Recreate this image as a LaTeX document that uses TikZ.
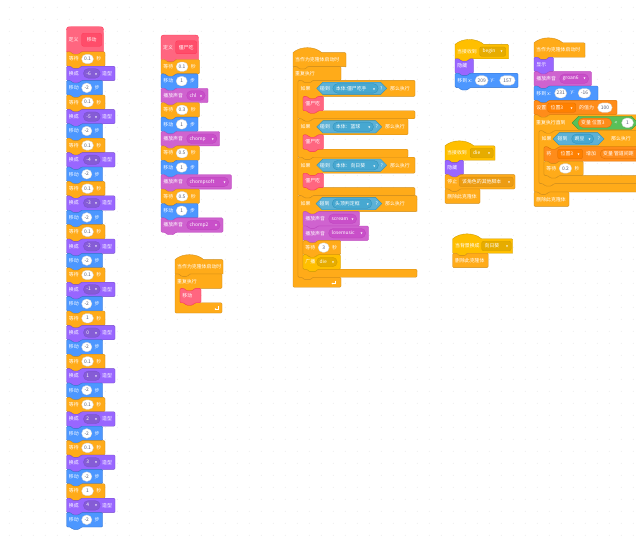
\documentclass[tikz,border=0pt]{standalone}
\usepackage{fontspec}
\newfontfamily\cjk{Noto Sans CJK SC}
\newfontfamily\dv{DejaVu Sans}
\usetikzlibrary{arrows.meta}
\definecolor{mo}{HTML}{4C97FF}\definecolor{moD}{HTML}{3373CC}
\definecolor{lk}{HTML}{9966FF}\definecolor{lkD}{HTML}{774DCB}\definecolor{lkS}{HTML}{855CD6}
\definecolor{so}{HTML}{CF63CF}\definecolor{soD}{HTML}{BD42BD}\definecolor{soS}{HTML}{C94FC9}
\definecolor{ev}{HTML}{FFBF00}\definecolor{evD}{HTML}{CC9900}\definecolor{evS}{HTML}{E6AC00}
\definecolor{ct}{HTML}{FFAB19}\definecolor{ctD}{HTML}{CF8B17}\definecolor{ctS}{HTML}{EC9C13}
\definecolor{se}{HTML}{5CB1D6}\definecolor{seD}{HTML}{2E8EB8}\definecolor{seS}{HTML}{47A8D1}
\definecolor{op}{HTML}{59C059}\definecolor{opD}{HTML}{389438}
\definecolor{da}{HTML}{FF8C1A}\definecolor{daD}{HTML}{DB6E00}\definecolor{daS}{HTML}{FF8000}
\definecolor{my}{HTML}{FF6680}\definecolor{myD}{HTML}{FF3355}\definecolor{myS}{HTML}{FF4D6A}
\definecolor{inp}{HTML}{575E75}
\tikzset{
 sMo/.style={fill=mo,draw=moD,line width=0.35pt},
 sLk/.style={fill=lk,draw=lkD,line width=0.35pt},
 sSo/.style={fill=so,draw=soD,line width=0.35pt},
 sEv/.style={fill=ev,draw=evD,line width=0.35pt},
 sCt/.style={fill=ct,draw=ctD,line width=0.35pt},
 sSe/.style={fill=se,draw=seD,line width=0.35pt},
 sOp/.style={fill=op,draw=opD,line width=0.35pt},
 sDa/.style={fill=da,draw=daD,line width=0.35pt},
 sMy/.style={fill=my,draw=myD,line width=0.35pt},
 lab/.style={text=white,font=\cjk\fontsize{4.9}{5}\selectfont,inner sep=0pt,anchor=west},
 ov/.style={shape=rectangle,rounded corners=4.6pt,fill=white,draw=black!18,line width=0.3pt,text=inp,font=\cjk\fontsize{4.9}{5}\selectfont,inner xsep=0pt,inner ysep=0pt,minimum height=9.4pt,anchor=west},
 pill/.style={shape=rectangle,rounded corners=4.6pt,line width=0.3pt,text=white,font=\cjk\fontsize{4.9}{5}\selectfont,inner xsep=3pt,inner ysep=0pt,minimum height=9.4pt,anchor=west},
 fld/.style={shape=rectangle,rounded corners=2pt,line width=0.3pt,text=white,font=\cjk\fontsize{4.9}{5}\selectfont,inner xsep=3pt,inner ysep=0pt,minimum height=9.4pt,anchor=west},
}
\newcommand\dn{{\dv\fontsize{2.6}{3}\selectfont ▼}}
% stack block: x y w h style
\newcommand\SBstack[5]{\draw[#5,rounded corners=1.1pt] (#1,#2) -- ++(4,0) -- ++(2.4,2.4) -- ++(6,0) -- ++(2.4,-2.4) -- ({#1+#3},#2) -- ({#1+#3},{#2+#4}) -- ({#1+14.8},{#2+#4}) -- ++(-2.4,2.4) -- ++(-6,0) -- ++(-2.4,-2.4) -- (#1,{#2+#4}) -- cycle;}
\newcommand\SBcap[5]{\draw[#5,rounded corners=1.1pt] (#1,#2) -- ++(4,0) -- ++(2.4,2.4) -- ++(6,0) -- ++(2.4,-2.4) -- ({#1+#3},#2) -- ({#1+#3},{#2+#4}) -- (#1,{#2+#4}) -- cycle;}
\newcommand\SBhat[5]{\draw[#5] (#1,{#2+#4}) -- (#1,#2) .. controls ({#1+7.5},{#2-6.6}) and ({#1+21.3},{#2-6.6}) .. ({#1+28.8},#2) -- ({#1+#3-1},#2) .. controls ({#1+#3},#2) .. ({#1+#3},{#2+1}) -- ({#1+#3},{#2+#4}) -- ({#1+14.8},{#2+#4}) -- ++(-2.4,2.4) -- ++(-6,0) -- ++(-2.4,-2.4) -- cycle;}
\newcommand\SBdef[5]{\draw[#5] (#1,{#2+#4}) -- (#1,{#2+6}) .. controls (#1,#2) .. ({#1+6},#2) -- ({#1+#3-6},#2) .. controls ({#1+#3},#2) .. ({#1+#3},{#2+6}) -- ({#1+#3},{#2+#4}) -- ({#1+14.8},{#2+#4}) -- ++(-2.4,2.4) -- ++(-6,0) -- ++(-2.4,-2.4) -- cycle;}
% C block: x y w ht hi hb style
\newcommand\SBc[7]{\pgfmathsetmacro\SBya{#2+#4}\pgfmathsetmacro\SByb{#2+#4+#5}\pgfmathsetmacro\SByc{#2+#4+#5+#6}\pgfmathsetmacro\SBxa{#1+5}%
 \draw[#7,rounded corners=1.1pt] (#1,#2) -- ++(4,0) -- ++(2.4,2.4) -- ++(6,0) -- ++(2.4,-2.4) -- ({#1+#3},#2) -- ({#1+#3},\SBya) -- ({\SBxa+14.8},\SBya) -- ++(-2.4,2.4) -- ++(-6,0) -- ++(-2.4,-2.4) -- (\SBxa,\SBya) -- (\SBxa,\SByb) -- ++(4,0) -- ++(2.4,2.4) -- ++(6,0) -- ++(2.4,-2.4) -- ({#1+#3},\SByb) -- ({#1+#3},\SByc) -- ({#1+14.8},\SByc) -- ++(-2.4,2.4) -- ++(-6,0) -- ++(-2.4,-2.4) -- (#1,\SByc) -- cycle;}
\newcommand\SBfor[7]{\pgfmathsetmacro\SBya{#2+#4}\pgfmathsetmacro\SByb{#2+#4+#5}\pgfmathsetmacro\SByc{#2+#4+#5+#6}\pgfmathsetmacro\SBxa{#1+5}%
 \draw[#7,rounded corners=1.1pt] (#1,#2) -- ++(4,0) -- ++(2.4,2.4) -- ++(6,0) -- ++(2.4,-2.4) -- ({#1+#3},#2) -- ({#1+#3},\SBya) -- ({\SBxa+14.8},\SBya) -- ++(-2.4,2.4) -- ++(-6,0) -- ++(-2.4,-2.4) -- (\SBxa,\SBya) -- (\SBxa,\SByb) -- ++(4,0) -- ++(2.4,2.4) -- ++(6,0) -- ++(2.4,-2.4) -- ({#1+#3},\SByb) -- ({#1+#3},\SByc) -- (#1,\SByc) -- cycle;}
\newcommand\SBhex[5]{\draw[#5] (#1,#3) -- ({#1+#4/2},{#3-#4/2}) -- ({(#2)-#4/2},{#3-#4/2}) -- (#2,#3) -- ({(#2)-#4/2},{#3+#4/2}) -- ({#1+#4/2},{#3+#4/2}) -- cycle;}
\newcommand\SBt[3]{\node[lab] at (#1,#2) {#3};}
\newcommand\SBo[4]{\pgfmathsetmacro\SBww{(#2)-(#1)}\node[ov,minimum width=\SBww pt] at (#1,#3) {#4};}
\newcommand\SBd[5]{\pgfmathsetmacro\SBww{(#2)-(#1)-6}\node[pill,#4] at (#1,#3) {\makebox[\SBww pt]{#5\hfill\dn}};}
\newcommand\SBf[5]{\pgfmathsetmacro\SBww{(#2)-(#1)-6}\node[fld,#4] at (#1,#3) {\makebox[\SBww pt]{#5\hfill\dn}};}
\newcommand\SBp[5]{\pgfmathsetmacro\SBww{(#2)-(#1)-6}\node[pill,#4] at (#1,#3) {\makebox[\SBww pt][l]{#5}};}
\newcommand\LoopArrow[2]{\draw[white,line width=0.55pt,-{Stealth[length=1.5pt,width=1.8pt]}] (#1,{#2-3}) -- (#1,#2) -- ({#1-3.5},#2);}
% block kinds
\newcommand\Wait[4]{\SBstack{#1}{#2}{(15+#4+11.7)}{14.4}{sCt}\pgfmathsetmacro\SBmy{#2+7.2}%
 \SBt{#1+2.2}{\SBmy}{等待}\SBo{#1+15}{#1+15+#4}{\SBmy}{#3}\SBt{#1+15+#4+2.8}{\SBmy}{秒}}
\newcommand\Move[4]{\SBstack{#1}{#2}{(15+#4+11)}{14.4}{sMo}\pgfmathsetmacro\SBmy{#2+7.2}%
 \SBt{#1+2.2}{\SBmy}{移动}\SBo{#1+15}{#1+15+#4}{\SBmy}{#3}\SBt{#1+15+#4+2.8}{\SBmy}{步}}
\newcommand\Costume[3]{\SBstack{#1}{#2}{48.5}{14.4}{sLk}\pgfmathsetmacro\SBmy{#2+7.2}%
 \SBt{#1+2.2}{\SBmy}{换成}\SBd{#1+16.8}{#1+33.5}{\SBmy}{fill=lkS,draw=lkD}{#3}\SBt{#1+35.5}{\SBmy}{造型}}
\newcommand\Sound[4]{\SBstack{#1}{#2}{(25.5+#4+3)}{14.4}{sSo}\pgfmathsetmacro\SBmy{#2+7.2}%
 \SBt{#1+2.2}{\SBmy}{播放声音}\SBd{#1+25.5}{#1+25.5+#4}{\SBmy}{fill=soS,draw=soD}{#3}}
\newcommand\Proc[4]{\SBstack{#1}{#2}{#3}{14.4}{sMy}\pgfmathsetmacro\SBmy{#2+7.2}\SBt{#1+2.2}{\SBmy}{#4}}
\newcommand\Simple[5]{\SBstack{#1}{#2}{#3}{14.4}{#4}\pgfmathsetmacro\SBmy{#2+7.2}\SBt{#1+2.2}{\SBmy}{#5}}
\newcommand\Delclone[3]{\SBcap{#1}{#2}{#3}{14.4}{sCt}\pgfmathsetmacro\SBmy{#2+7.2}\SBt{#1+2.2}{\SBmy}{删除此克隆体}}
\begin{document}
\begin{tikzpicture}[x=1pt,y=-1pt]
\useasboundingbox (0,0) rectangle (636,536);
\fill[white] (0,0) rectangle (636,536);
\foreach \i in {0,...,52}{\foreach \j in {0,...,44}{\fill[black!12] ({9.3+\i*12},{7.3+\j*12}) circle (0.4);}}

% ---------- column 1 : 定义 移动 ----------
\SBdef{66.5}{26.7}{37}{25.1}{sMy}
\SBt{68.5}{39.8}{定义}
\node[fld,fill=myS,draw=myD,minimum width=20pt,minimum height=13pt,inner xsep=0pt] (slotA) at (81.5,39.8) {移动};
\foreach \kk/\wv/\cv in {0/0.1/-6,1/0.1/-5,2/0.1/-4,3/0.1/-3,4/0.1/-2,5/0.1/-1,6/1/0,7/0.1/1,8/0.1/2,9/0.1/3,10/1/4}{
 \pgfmathsetmacro\yA{51.8+\kk*43.2}
 \pgfmathsetmacro\yB{\yA+14.4}
 \pgfmathsetmacro\yC{\yA+28.8}
 \Wait{66.5}{\yA}{\wv}{11.8}
 \Costume{66.5}{\yB}{\cv}
 \Move{66.5}{\yC}{-2}{10.2}
}

% ---------- column 2 : 定义 僵尸吃 ----------
\SBdef{161}{35}{37.5}{24.5}{sMy}
\SBt{163}{47.3}{定义}
\node[fld,fill=myS,draw=myD,minimum width=21pt,minimum height=13pt,inner xsep=0pt] (slotB) at (175.5,47.3) {僵尸吃};
\Wait{161}{59.5}{0.1}{11.8}
\Move{161}{73.9}{1}{11}
\Sound{161}{88.3}{chl}{18.5}
\Wait{161}{102.7}{0.3}{11.8}
\Move{161}{117.1}{1}{11}
\Sound{161}{131.5}{chomp}{30.2}
\Wait{161}{145.9}{0.5}{11.8}
\Move{161}{160.3}{1}{11}
\Sound{161}{174.7}{chompsoft}{42}
\Wait{161}{189.1}{0.5}{11.8}
\Move{161}{203.5}{1}{11}
\Sound{161}{217.9}{chomp2}{33.5}

% clone script under column 2
\SBhat{175}{259.6}{48}{14.4}{sCt}
\SBt{177}{266.8}{当作为克隆体启动时}
\SBfor{175}{274}{47}{14.4}{14.4}{10.2}{sCt}
\SBt{177}{281.2}{重复执行}
\Proc{180}{288.4}{21}{移动}
\LoopArrow{218}{309}

% ---------- column 3 ----------
\SBhat{293}{52.6}{53}{14}{sCt}
\SBt{295}{59.6}{当作为克隆体启动时}
\SBfor{293}{66.6}{48}{13.8}{196.8}{10}{sCt}
\SBt{295}{73.5}{重复执行}
% if 1
\SBc{298}{80.4}{117}{16}{14.4}{8}{sCt}
\SBt{300.5}{88.4}{如果}
\SBhex{316.7}{386.7}{88.4}{12.4}{sSe}
\SBt{320}{88.4}{碰到}
\SBd{332.7}{378}{88.4}{fill=seS,draw=seD}{本体:僵尸吃手}
\SBt{380}{88.4}{?}
\SBt{390}{88.4}{那么执行}
\Proc{303}{96.4}{20.5}{僵尸吃}
% if 2
\SBc{298}{118.8}{110}{16}{14.4}{8}{sCt}
\SBt{300.5}{126.8}{如果}
\SBhex{316.7}{381.7}{126.8}{12.4}{sSe}
\SBt{320}{126.8}{碰到}
\SBd{332.7}{373.3}{126.8}{fill=seS,draw=seD}{本体：篮球}
\SBt{375.3}{126.8}{?}
\SBt{385}{126.8}{那么执行}
\Proc{303}{134.8}{20.5}{僵尸吃}
% if 3
\SBc{298}{157.2}{117}{16}{14.4}{8}{sCt}
\SBt{300.5}{165.2}{如果}
\SBhex{316.7}{386.7}{165.2}{12.4}{sSe}
\SBt{320}{165.2}{碰到}
\SBd{332.7}{378.3}{165.2}{fill=seS,draw=seD}{本体：向日葵}
\SBt{380.3}{165.2}{?}
\SBt{390}{165.2}{那么执行}
\Proc{303}{173.2}{20.5}{僵尸吃}
% if 4
\SBc{298}{195.6}{119}{16}{57.6}{8}{sCt}
\SBt{300.5}{203.6}{如果}
\SBhex{316}{381.7}{203.6}{12.4}{sSe}
\SBt{319.5}{203.6}{碰到}
\SBd{332}{371.7}{203.6}{fill=seS,draw=seD}{头顶判定框}
\SBt{375.3}{203.6}{?}
\SBt{385}{203.6}{那么执行}
\Sound{303}{211.6}{scream}{28}
\Sound{303}{226}{losemusic}{37}
\Wait{303}{240.4}{3}{11}
\Simple{303}{254.8}{37.5}{sEv}{广播}
\SBd{316.5}{337}{262}{fill=evS,draw=evD}{die}
\LoopArrow{335}{283.5}

% ---------- column 4 ----------
\SBhat{455}{44.4}{53.5}{14.4}{sEv}
\SBt{457}{51.6}{当接收到}
\SBf{479.5}{505.5}{51.6}{fill=evS,draw=evD}{begin}
\Simple{455}{58.8}{18.5}{sLk}{隐藏}
\Simple{455}{73.2}{63}{sMo}{移到 x:}
\SBo{475}{488}{80.4}{209}
\SBt{490.5}{80.4}{y:}
\SBo{499.5}{515}{80.4}{157}

\SBhat{445}{145.8}{50}{14.4}{sEv}
\SBt{447}{153}{当接收到}
\SBf{470}{493}{153}{fill=evS,draw=evD}{die}
\Simple{445}{160.2}{18.5}{sLk}{隐藏}
\Simple{445}{174.6}{70}{sCt}{停止}
\SBf{459}{513}{181.8}{fill=ctS,draw=ctD}{该角色的其他脚本}
\Delclone{445}{189}{35}

\SBhat{452.7}{238.8}{60}{14.4}{sEv}
\SBt{454.9}{246}{当背景换成}
\SBf{481.5}{511}{246}{fill=evS,draw=evD}{向日葵}
\Delclone{452.7}{253.2}{35.5}

% ---------- column 5 ----------
\SBhat{534}{42.8}{51}{14.4}{sCt}
\SBt{536}{50}{当作为克隆体启动时}
\Simple{534}{57.2}{19.5}{sLk}{显示}
\Sound{534}{71.6}{groan6}{29}
\Simple{534}{86}{64}{sMo}{移到 x:}
\SBo{554.5}{566.5}{93.2}{231}
\SBt{570.5}{93.2}{y:}
\SBo{578}{590.5}{93.2}{-16}
\Simple{534}{100.4}{83}{sDa}{设置}
\SBf{547.5}{575.5}{107.6}{fill=daS,draw=daD}{位置3}
\SBt{579}{107.6}{的值为}
\SBo{597.5}{612}{107.6}{100}
\SBc{534}{114.8}{120}{16}{52.8}{8.4}{sCt}
\SBt{536}{122.8}{重复执行直到}
\SBhex{572}{638}{122.8}{13}{sOp}
\SBp{578}{611.5}{122.8}{fill=da,draw=daD}{变量 位置3}
\SBt{614.5}{122.8}{<}
\SBo{621.5}{633.3}{122.8}{1}
\SBc{539}{130.8}{110}{16}{28.8}{8}{sCt}
\SBt{541.5}{138.8}{如果}
\SBhex{553}{604}{138.8}{12.4}{sSe}
\SBt{557.5}{138.8}{碰到}
\SBd{571.5}{593.5}{138.8}{fill=seS,draw=seD}{豌豆}
\SBt{597.3}{138.8}{?}
\SBt{611}{138.8}{那么执行}
\Simple{544}{146.8}{110}{sDa}{将}
\SBf{557.5}{582.5}{154}{fill=daS,draw=daD}{位置3}
\SBt{586}{154}{增加}
\SBp{600}{662}{154}{fill=da,draw=daD}{变量 管道间距}
\Wait{544}{161.2}{0.2}{12.5}
\Delclone{534}{192}{35}
\end{tikzpicture}
\end{document}
